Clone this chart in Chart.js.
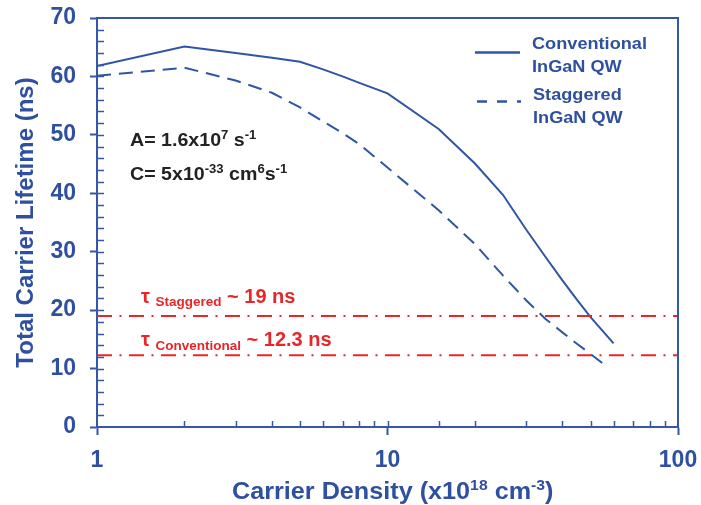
<!DOCTYPE html>
<html>
<head>
<meta charset="utf-8">
<script src="https://cdn.jsdelivr.net/npm/chart.js@4.4.1/dist/chart.umd.min.js"></script>
<style>
html,body{margin:0;padding:0;background:#fff;}
#wrap{width:701px;height:505px;}
</style>
</head>
<body>
<div id="wrap"><canvas id="c" width="701" height="505"></canvas></div>
<script>
// ---- data ----
const convDensity = [1, 2, 3, 4, 5, 6, 7, 8, 10, 15, 20, 25, 30, 35, 40, 45, 50, 60];
const conventional = [61.8, 65.1, 64.0, 63.2, 62.5, 61.2, 60.0, 58.9, 57.1, 51.0, 45.1, 39.7, 33.8, 29.1, 25.1, 21.7, 18.8, 14.3];
const stagDensity = [1, 2, 3, 4, 5, 6, 7, 8, 10, 15, 20, 25, 30, 35, 40, 45, 50, 57];
const staggered = [60.1, 61.5, 59.3, 57.2, 54.7, 52.3, 50.3, 48.4, 44.4, 37.1, 31.3, 25.9, 21.7, 18.5, 16.2, 14.2, 12.5, 10.3];
const thresholdRange = [1, 100];
const tauStaggered = 19;
const tauConventional = 12.3;
const xTickLabels = [1, 10, 100];
const yTickLabels = [0, 10, 20, 30, 40, 50, 60, 70];

const BLUE = '#2f55a5';
const AXIS = '#3457a7';
const TXT = '#2f50a0';
const RED = '#e8262a';
const FONT = '"Liberation Sans", Arial, sans-serif';

const toPts = (xs, ys) => xs.map((x, i) => ({x: x, y: ys[i]}));

function rich(ctx, x, y, parts, sx, color) {
  ctx.save();
  ctx.translate(x, y);
  ctx.scale(sx, 1);
  ctx.fillStyle = color;
  ctx.textBaseline = 'alphabetic';
  ctx.textAlign = 'left';
  let cx = 0;
  for (const p of parts) {
    ctx.font = p.f;
    ctx.fillText(p.t, cx, p.dy || 0);
    cx += ctx.measureText(p.t).width;
  }
  ctx.restore();
}

const decor = {
  id: 'decor',
  afterDatasetsDraw(chart) {
    const ctx = chart.ctx;
    const a = chart.chartArea;
    const xs = chart.scales.x, ys = chart.scales.y;
    ctx.save();
    ctx.strokeStyle = AXIS;
    ctx.lineWidth = 2;
    ctx.beginPath();
    ctx.moveTo(a.left, a.top);
    ctx.lineTo(a.right, a.top);
    ctx.lineTo(a.right, a.bottom);
    ctx.stroke();
    ctx.lineWidth = 1.5;
    ctx.beginPath();
    for (let v = 2; v < 70; v += 2) {
      const py = Math.round(ys.getPixelForValue(v)) + 0.5;
      ctx.moveTo(a.left, py);
      ctx.lineTo(a.left + 7, py);
    }
    xs.ticks.forEach(t => {
      const v = t.value;
      if (v <= 1 || v >= 100) return;
      const px = Math.round(xs.getPixelForValue(v)) + 0.5;
      ctx.moveTo(px, a.bottom);
      ctx.lineTo(px, a.bottom - 6);
    });
    ctx.stroke();
    ctx.restore();
  },
  afterDraw(chart) {
    const ctx = chart.ctx;
    const a = chart.chartArea;
    ctx.save();
    ctx.translate(26, (a.top + a.bottom) / 2);
    ctx.rotate(-Math.PI / 2);
    ctx.font = 'bold 24px ' + FONT;
    ctx.fillStyle = TXT;
    ctx.textAlign = 'center';
    ctx.textBaseline = 'middle';
    ctx.fillText('Total Carrier Lifetime (ns)', 0, 0);
    ctx.restore();

    const big = 'bold 24px ' + FONT, sup = 'bold 15px ' + FONT;
    rich(ctx, 232, 499, [
      {t: 'Carrier Density (x10', f: big},
      {t: '18', f: sup, dy: -9},
      {t: ' cm', f: big},
      {t: '-3', f: sup, dy: -9},
      {t: ')', f: big}
    ], 1.05, TXT);

    const m = 'bold 18px ' + FONT, s = 'bold 12px ' + FONT;
    rich(ctx, 130, 146, [
      {t: 'A= 1.6x10', f: m}, {t: '7', f: s, dy: -7}, {t: ' s', f: m}, {t: '-1', f: s, dy: -7}
    ], 1.09, '#222222');
    rich(ctx, 130, 180, [
      {t: 'C= 5x10', f: m}, {t: '-33', f: s, dy: -7}, {t: ' cm', f: m}, {t: '6', f: s, dy: -7},
      {t: 's', f: m}, {t: '-1', f: s, dy: -7}
    ], 1.09, '#222222');

    const r = 'bold 20px ' + FONT, rs = 'bold 13.5px ' + FONT;
    rich(ctx, 141, 303, [
      {t: 'τ ', f: r}, {t: 'Staggered', f: rs, dy: 3}, {t: ' ~ 19 ns', f: r}
    ], 1.0, RED);
    rich(ctx, 141, 346, [
      {t: 'τ ', f: r}, {t: 'Conventional', f: rs, dy: 4}, {t: ' ~ 12.3 ns', f: r}
    ], 1.0, RED);

    ctx.save();
    ctx.strokeStyle = BLUE;
    ctx.lineWidth = 2.5;
    ctx.beginPath();
    ctx.moveTo(475, 52.5);
    ctx.lineTo(520, 52.5);
    ctx.stroke();
    ctx.setLineDash([10, 10]);
    ctx.beginPath();
    ctx.moveTo(477, 101.5);
    ctx.lineTo(521, 101.5);
    ctx.stroke();
    ctx.restore();
    const lg = 'bold 16.5px ' + FONT;
    rich(ctx, 532, 48.5, [{t: 'Conventional', f: lg}], 1.1, TXT);
    rich(ctx, 532, 72, [{t: 'InGaN QW', f: lg}], 1.1, TXT);
    rich(ctx, 533, 100, [{t: 'Staggered', f: lg}], 1.1, TXT);
    rich(ctx, 533, 123, [{t: 'InGaN QW', f: lg}], 1.1, TXT);
  }
};

const isPow10 = v => xTickLabels.includes(v);

new Chart(document.getElementById('c'), {
  type: 'line',
  data: {
    datasets: [
      {data: toPts(thresholdRange, [tauStaggered, tauStaggered]), borderColor: RED, borderWidth: 2,
       borderDash: [15, 7.5, 2, 7.5], pointRadius: 0, order: 0},
      {data: toPts(thresholdRange, [tauConventional, tauConventional]), borderColor: RED, borderWidth: 2,
       borderDash: [15, 7.5, 2, 7.5], pointRadius: 0, order: 0},
      {data: toPts(convDensity, conventional), borderColor: BLUE, borderWidth: 2, pointRadius: 0, tension: 0, order: 1},
      {data: toPts(stagDensity, staggered), borderColor: BLUE, borderWidth: 2, borderDash: [14, 8], pointRadius: 0, tension: 0, order: 1}
    ]
  },
  options: {
    responsive: false,
    animation: false,
    devicePixelRatio: 1,
    layout: {padding: {top: 18, right: 23, left: 0, bottom: 0}},
    plugins: {legend: {display: false}, tooltip: {enabled: false}},
    scales: {
      x: {
        type: 'logarithmic', min: 1, max: 100,
        afterFit: s => { s.height = 78; s.paddingLeft = 0; s.paddingRight = 0; },
        border: {display: true, color: AXIS, width: 2},
        grid: {drawOnChartArea: false, drawTicks: true, tickLength: 8, tickWidth: 2,
               tickColor: c => (c.tick && isPow10(c.tick.value)) ? AXIS : 'rgba(0,0,0,0)'},
        ticks: {autoSkip: false, maxRotation: 0, padding: 12, color: TXT,
                font: {family: FONT, size: 23, weight: 'bold'},
                callback: v => isPow10(v) ? String(v) : ''}
      },
      y: {
        min: 0, max: 70,
        afterFit: s => { s.width = 97; s.paddingTop = 0; s.paddingBottom = 0; },
        afterBuildTicks: s => { s.ticks = yTickLabels.map(v => ({value: v})); },
        border: {display: true, color: AXIS, width: 2},
        grid: {drawOnChartArea: false, drawTicks: true, tickLength: 7, tickWidth: 2, tickColor: AXIS},
        ticks: {padding: 14, color: TXT, font: {family: FONT, size: 23, weight: 'bold'}}
      }
    }
  },
  plugins: [decor]
});
</script>
</body>
</html>
